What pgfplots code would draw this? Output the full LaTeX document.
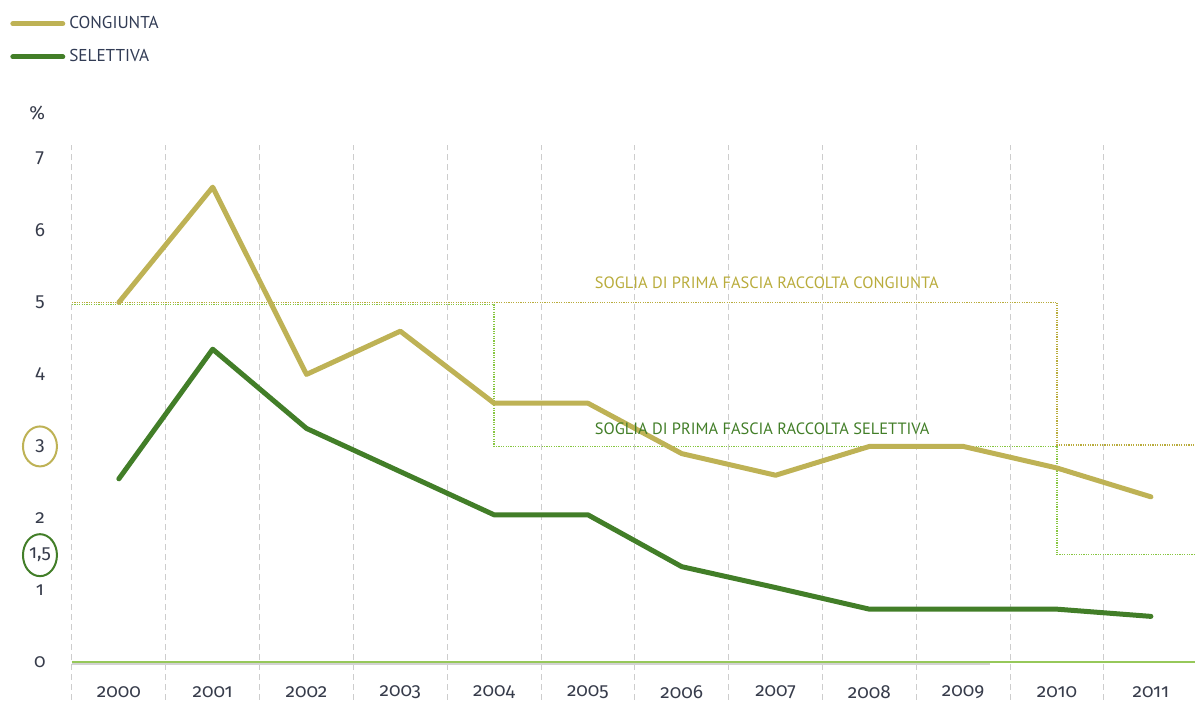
\documentclass[border=0pt]{standalone}
\usepackage{fontspec}
\setmainfont{Fira Sans}[Numbers=OldStyle]
\newfontfamily\ptsans{PT Sans}
\usepackage{pgfplots}
\pgfplotsset{compat=1.18}
\usetikzlibrary{shapes.geometric}

\definecolor{congC}{RGB}{190,178,85}
\definecolor{selC}{RGB}{66,126,40}
\definecolor{congDot}{RGB}{185,172,60}
\definecolor{selDot}{RGB}{135,198,65}
\definecolor{zeroC}{RGB}{150,200,90}
\definecolor{numC}{RGB}{55,60,75}
\definecolor{legC}{RGB}{50,60,85}
\definecolor{gridC}{RGB}{205,205,205}

\begin{document}
\begin{tikzpicture}
\begin{axis}[
  at={(0,0)}, anchor=south west,
  scale only axis,
  width=562pt, height=277.5pt,
  xmin=1999.5, xmax=2011.47,
  ymin=-0.52, ymax=7.18,
  clip=false,
  axis line style={draw=none},
  major tick length=0pt, minor tick length=0pt,
  xtick={2000,...,2011},
  minor xtick={1999.5,2000.5,...,2010.5},
  xminorgrids=true,
  minor grid style={gridC, line width=0.5pt, dash pattern=on 3pt off 2pt},
  ytick={0,1,2,4,5,6,7},
  /pgf/number format/assume math mode=true,
  /pgf/number format/1000 sep={},
  tick label style={font=\fontsize{9.5}{11}\selectfont, text=numC},
  xticklabel style={anchor=center, yshift=3.75pt},
  yticklabel style={anchor=center, xshift=-16pt},
  legend style={draw=none, fill=none, inner sep=0pt,
    at={(-0.0552,1.241)}, anchor=north west,
    row sep=5pt, legend cell align=left,
    font=\ptsans\fontsize{8.6}{10}\selectfont, text=legC},
  legend image code/.code={\draw[#1] (0pt,0pt) -- (25pt,0pt);},
]
% threshold lines (draw first, behind data)
\addplot[selDot, line width=0.8pt, dash pattern=on 0.6pt off 0.6pt, forget plot]
  coordinates {(1999.5,4.97) (2004,4.97) (2004,3) (2010,3) (2010,1.5) (2011.47,1.5)};
\addplot[congDot, line width=0.8pt, dash pattern=on 0.6pt off 0.6pt, forget plot]
  coordinates {(1999.5,5.0) (2010,5.0) (2010,3.02) (2011.47,3.02)};

% zero line
\draw[gray!35, line width=0.8pt] (axis cs:1999.5,-0.025) -- (axis cs:2009.28,-0.025);
\draw[zeroC, line width=1pt] (axis cs:1999.5,0) -- (axis cs:2011.47,0);

\addplot[congC, line width=2.5pt, line join=round, line cap=round]
  coordinates {
    (2000,5.0) (2001,6.6) (2002,4.0) (2003,4.6) (2004,3.6) (2005,3.6)
    (2006,2.9) (2007,2.6) (2008,3.0) (2009,3.0) (2010,2.7) (2011,2.3)
  };
\addplot[selC, line width=2.5pt, line join=round, line cap=round]
  coordinates {
    (2000,2.55) (2001,4.35) (2002,3.25) (2003,2.65) (2004,2.05) (2005,2.05)
    (2006,1.33) (2007,1.04) (2008,0.74) (2009,0.74) (2010,0.74) (2011,0.64)
  };
\legend{CONGIUNTA, SELETTIVA}

% threshold labels
\node[anchor=west, text=congDot, font=\ptsans\fontsize{8.2}{10}\selectfont, inner sep=0pt]
  at (axis cs:2005.07,5.27) {SOGLIA DI PRIMA FASCIA RACCOLTA CONGIUNTA};
\node[anchor=west, text=selC, font=\ptsans\fontsize{8.2}{10}\selectfont, inner sep=0pt]
  at (axis cs:2005.07,3.25) {SOGLIA DI PRIMA FASCIA RACCOLTA SELETTIVA};

% circled threshold values on the y axis
\node[ellipse, draw=congC, line width=1pt, minimum width=17pt, minimum height=20pt,
  inner sep=0pt, text=numC, font=\fontsize{9.5}{11}\selectfont]
  at ([xshift=-16pt]axis cs:1999.5,3) {3};
\node[ellipse, draw=selC, line width=1pt, minimum width=17pt, minimum height=21pt,
  inner sep=0pt, text=numC, font=\fontsize{9.5}{11}\selectfont]
  at ([xshift=-16pt]axis cs:1999.5,1.49) {1,5};

% unit
\node[text=numC, font=\fontsize{9.5}{11}\selectfont]
  at (axis description cs:-0.031,1.0586) {\%};
\end{axis}
\useasboundingbox (-36pt,-1.75pt) rectangle (562pt,350.25pt);
\end{tikzpicture}
\end{document}
